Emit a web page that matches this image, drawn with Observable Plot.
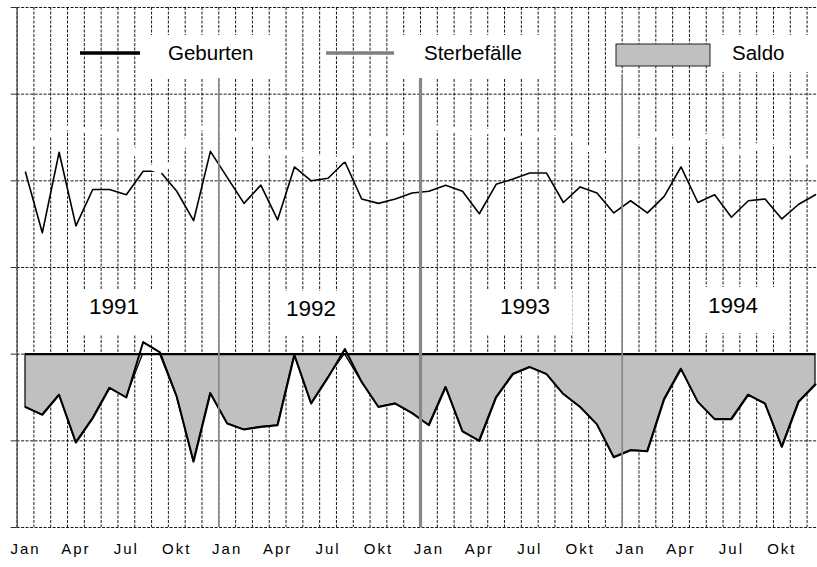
<!DOCTYPE html>
<html><head><meta charset="utf-8">
<script src="https://cdn.jsdelivr.net/npm/d3@7"></script>
<script src="https://cdn.jsdelivr.net/npm/@observablehq/plot@0.6"></script>
<style>
body{margin:0;background:#fff;}
#chart{position:relative;width:817px;height:567px;overflow:hidden;}
</style>
</head><body><div id="chart"></div>
<script>
const years = [1991, 1992, 1993, 1994];
const monthNames = ["Jan","Feb","Mär","Apr","Mai","Jun","Jul","Aug","Sep","Okt","Nov","Dez"];
const tickMonths = ["Jan","Apr","Jul","Okt"];
const seriesNames = ["Geburten","Sterbefälle","Saldo"];
const gridValues = [-2000,-1000,0,1000,2000,3000,4000];

const geburten = [
  2100,1400,2330,1480,1900,1900,1840,2110,2110,1880,1540,2340,
  2040,1740,1950,1550,2160,2000,2030,2220,1790,1740,1790,1860,
  1880,1950,1880,1620,1960,2020,2090,2090,1750,1930,1860,1630,
  1770,1630,1820,2160,1750,1840,1580,1770,1790,1560,1730,1840
];
const sterbefaelle = [
  2390,2480,2620,2600,2560,2570,2480,2190,2110,2250,2620,2600,
  2600,2480,2370,2310,2340,2270,2250,2250,2420,2540,2420,2570,
  2600,2620,2570,2540,2600,2480,2500,2570,2540,2420,2310,2270,
  2370,2540,2540,2370,2480,2540,2370,2310,2480,2420,2250,2190
];
const saldo = [
  -610,-700,-470,-1020,-740,-390,-500,140,20,-490,-1240,-450,
  -800,-870,-840,-820,-10,-570,-270,60,-320,-610,-570,-680,
  -820,-380,-890,-1000,-500,-230,-150,-230,-460,-610,-810,-1190,
  -1110,-1120,-520,-170,-550,-750,-750,-470,-570,-1070,-550,-350
];

const data = geburten.map((g, i) => ({
  i, year: years[Math.floor(i / 12)], month: monthNames[i % 12],
  geburten: g, sterbe: sterbefaelle[i], saldo: saldo[i]
}));
const nMonths = data.length;
const monthEdges = d3.range(nMonths + 1).map(k => k - 0.5);
const labelTicks = data.filter(d => tickMonths.includes(d.month)).map(d => d.i);
const yearBreaks = years.slice(1).map((y, k) => (k + 1) * 12 - 0.5);
const font = "'Liberation Sans', Arial, sans-serif";

const plot = Plot.plot({
  width: 817,
  height: 567,
  marginTop: 7,
  marginBottom: 40,
  marginLeft: 16.6,
  marginRight: 0,
  style: {fontFamily: font, fontSize: "15px", color: "#000", background: "#fff"},
  x: {domain: [-0.5, nMonths - 0.5], range: [16.6, 823.4], label: null},
  y: {domain: [-2000, 4000], label: null},
  marks: [
    Plot.gridX(monthEdges, {stroke: "#000", strokeOpacity: 1, strokeWidth: 0.9, strokeDasharray: "3,1.5"}),
    Plot.gridY(gridValues, {stroke: "#000", strokeOpacity: 1, strokeWidth: 0.9, strokeDasharray: "3,1.5"}),
    Plot.axisY({ticks: gridValues, tickSize: 6, tickFormat: () => "", stroke: "#333", label: null}),
    Plot.ruleX([-0.5], {stroke: "#444", strokeWidth: 1.2}),
    Plot.areaY(data, {x: "i", y1: 0, y2: d => Math.min(d.saldo, 0), fill: "#c0c0c0", stroke: "#000", strokeWidth: 1.2}),
    Plot.ruleY([0], {x1: 0, x2: nMonths - 1, stroke: "#000", strokeWidth: 2}),
    Plot.lineY(data, {x: "i", y: "saldo", stroke: "#000", strokeWidth: 2}),
    Plot.lineY(data, {x: "i", y: "geburten", stroke: "#000", strokeWidth: 1.6}),
    Plot.lineY(data, {x: "i", y: "sterbe", stroke: "#fff", strokeWidth: 5}),
    Plot.ruleX(yearBreaks, {y1: 3220, y2: -2000, stroke: "#888", strokeWidth: (d, k) => k === 1 ? 3.2 : 1.7}),
    Plot.axisX({ticks: labelTicks, tickFormat: i => monthNames[i % 12], tickSize: 0, tickPadding: 16, fill: "#000", label: null})
  ]
});

const svg = d3.select(plot);
svg.selectAll('g[aria-label="x-axis tick label"] text').attr("letter-spacing", "2px");

// legend
const lg = svg.append("g").attr("font-family", font).attr("font-size", "20.5px").attr("fill", "#000").attr("text-anchor", "start");
[[145, 35, 133, 43], [397, 35, 151, 43], [715, 35, 110, 37]].forEach(([x, y, w, h]) =>
  lg.append("rect").attr("x", x).attr("y", y).attr("width", w).attr("height", h).attr("fill", "#fff"));
lg.append("line").attr("x1", 80).attr("x2", 140).attr("y1", 53).attr("y2", 53).attr("stroke", "#000").attr("stroke-width", 3.3);
lg.append("line").attr("x1", 326).attr("x2", 394).attr("y1", 53).attr("y2", 53).attr("stroke", "#808080").attr("stroke-width", 3.3);
lg.append("rect").attr("x", 616).attr("y", 44).attr("width", 94).attr("height", 22).attr("fill", "#c0c0c0").attr("stroke", "#222").attr("stroke-width", 1);
[[168, seriesNames[0]], [424, seriesNames[1]], [732, seriesNames[2]]].forEach(([x, t]) =>
  lg.append("text").attr("x", x).attr("y", 60).text(t));

// year labels
const yg = svg.append("g").attr("font-family", font).attr("font-size", "22.5px").attr("fill", "#000").attr("text-anchor", "middle");
const yearBoxes = [[72, 290, 88, 44, 114, 314], [275, 291, 72, 45, 311, 316], [482, 290, 90, 44, 525, 314], [695, 287, 80, 46, 733, 313]];
yearBoxes.forEach(([x, y, w, h, cx, by], k) => {
  yg.append("rect").attr("x", x).attr("y", y).attr("width", w).attr("height", h).attr("fill", "#fff");
  yg.append("text").attr("x", cx).attr("y", by).text(years[k]);
});

document.getElementById("chart").appendChild(plot);
</script>
</body></html>
